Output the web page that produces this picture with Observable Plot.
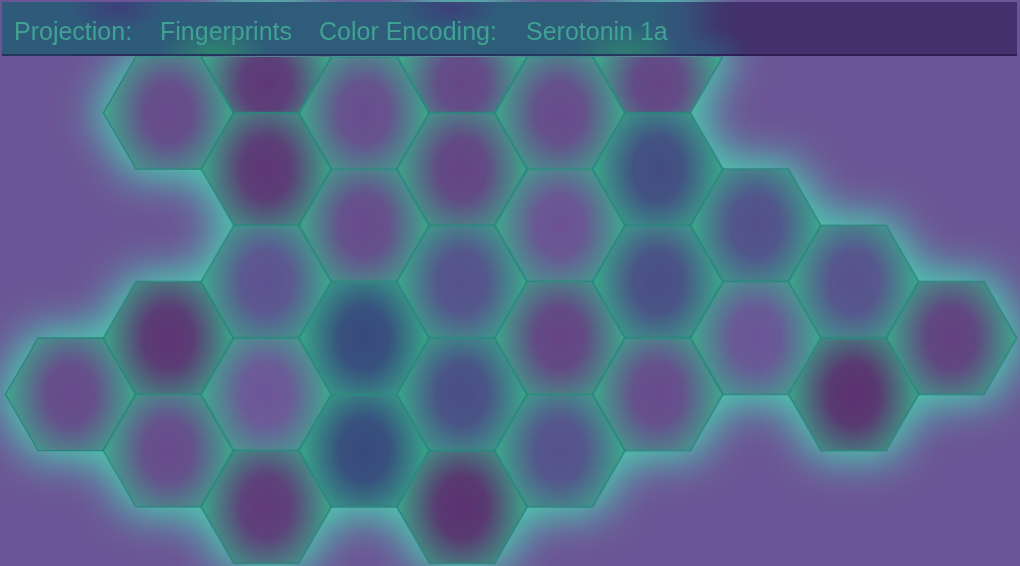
<!DOCTYPE html>
<html>
<head>
<meta charset="utf-8">
<script src="https://cdn.jsdelivr.net/npm/d3@7"></script>
<script src="https://cdn.jsdelivr.net/npm/@observablehq/plot@0.6"></script>
<style>
html, body { margin: 0; padding: 0; background: #6c5596; overflow: hidden; }
#wrap { position: relative; width: 1020px; height: 566px; overflow: hidden; }
#chart svg { display: block; }
#bar {
  position: absolute; left: 2px; top: 2px; width: 1015px; height: 52px;
  background:
    radial-gradient(ellipse 55px 26px at 213px 50px, rgba(46, 145, 108, 0.75), rgba(46, 145, 108, 0) 100%),
    radial-gradient(ellipse 55px 26px at 622px 48px, rgba(46, 145, 108, 0.6), rgba(46, 145, 108, 0) 100%),
    radial-gradient(ellipse 50px 24px at 115px 6px, rgba(66, 52, 122, 0.7), rgba(66, 52, 122, 0) 100%),
    radial-gradient(ellipse 50px 24px at 448px 6px, rgba(66, 52, 122, 0.7), rgba(66, 52, 122, 0) 100%),
    radial-gradient(ellipse 45px 30px at 705px 55px, rgba(46, 92, 128, 0.7), rgba(46, 92, 128, 0) 100%),
    linear-gradient(90deg, #2f5a7a 0%, #2e5e7a 64%, #355078 67.5%, #40376f 70.5%, #43306c 73%, #43306c 100%);
  border-bottom: 2px solid rgba(25, 8, 55, 0.45);
  font-family: "Liberation Sans", Arial, sans-serif; font-size: 25px; color: #3fa293;
}
#bar span { position: absolute; top: 15px; white-space: nowrap; }
#bar .h0 { left: 12px; }
#bar .h1 { left: 158px; }
#bar .h2 { left: 317px; }
#bar .h3 { left: 524px; }
</style>
</head>
<body>
<div id="wrap"><div id="chart"></div><div id="bar"></div></div>
<script>
// Hex grid cells: column index, row index (half-hex steps), Serotonin 1a encoding value
const hexCol = [0, 1, 1, 1, 2, 2, 2, 2, 2, 3, 3, 3, 3, 4, 4, 4, 4, 4, 5, 5, 5, 5, 6, 6, 6, 6, 7, 7, 8, 8, 9];
const hexRow = [6, 1, 5, 7, 0, 2, 4, 6, 8, 1, 3, 5, 7, 0, 2, 4, 6, 8, 1, 3, 5, 7, 0, 2, 4, 6, 3, 5, 4, 6, 5];
const serotonin1a = [-0.35, -0.35, -0.9, -0.3, -0.8, -0.85, 0.3, 0.0, -0.75, -0.25, -0.3, 1.0, 1.0, -0.4, -0.5, 0.45, 0.65, -1.0, -0.3, -0.1, -0.5, 0.45, -0.45, 0.8, 0.65, -0.3, 0.5, 0.05, 0.4, -1.0, -0.6];
const headerLabels = ["Projection:", "Fingerprints", "Color Encoding:", "Serotonin 1a"];

const hexes = hexCol.map((c, i) => ({col: c, row: hexRow[i], value: serotonin1a[i]}));
const innerHexes = hexes.filter(d => d.row > 0);
const topHexes = hexes.filter(d => d.row === 0);

// flat-topped hexagon symbol, circumradius = dot r
const flatHexagon = {
  draw(context, size) {
    const r = Math.sqrt(size / Math.PI);
    for (let i = 0; i < 6; ++i) {
      const a = Math.PI / 3 * i;
      const px = r * Math.cos(a), py = r * Math.sin(a);
      if (i) context.lineTo(px, py); else context.moveTo(px, py);
    }
    context.closePath();
  }
};

const chart = Plot.plot({
  width: 1020,
  height: 566,
  margin: 0,
  x: {domain: [0, 9], range: [70, 951], axis: null},
  y: {domain: [0, 9], range: [56, 562.7], axis: null},
  color: {type: "linear", domain: [-1, 0, 1], range: ["#5c3170", "#6f5699", "#394a7e"]},
  style: {background: "#6c5596", overflow: "hidden"},
  marks: [
    Plot.dot(hexes, {x: "col", y: "row", r: 76, symbol: flatHexagon, fill: "#4ccdb0"}),
    Plot.dot(hexes, {x: "col", y: "row", r: 65, symbol: flatHexagon, fill: "value"}),
    Plot.dot(innerHexes, {x: "col", y: "row", r: 65, symbol: flatHexagon, fill: "url(#hexEdge)", stroke: "#2a857e", strokeWidth: 1.3}),
    Plot.dot(topHexes, {x: "col", y: "row", r: 65, symbol: flatHexagon, fill: "url(#hexEdgeTop)", stroke: "#2a857e", strokeWidth: 1.3})
  ]
});

const svg = d3.select(chart);
const defs = svg.insert("defs", ":first-child");
defs.append("filter").attr("id", "hexGlow")
  .attr("x", "-20%").attr("y", "-20%").attr("width", "140%").attr("height", "140%")
  .append("feGaussianBlur").attr("stdDeviation", 21);
function edgeGradient(id, cy, sy) {
  const g = defs.append("radialGradient").attr("id", id)
    .attr("cx", "0.5").attr("cy", cy).attr("r", "0.5")
    .attr("gradientTransform", `translate(0.5,${cy}) scale(1,${sy}) translate(-0.5,${-cy})`);
  g.append("stop").attr("offset", "0%").attr("stop-color", "#37b98c").attr("stop-opacity", 0);
  g.append("stop").attr("offset", "38%").attr("stop-color", "#37b98c").attr("stop-opacity", 0.07);
  g.append("stop").attr("offset", "100%").attr("stop-color", "#37b98c").attr("stop-opacity", 0.85);
}
edgeGradient("hexEdge", 0.5, 1.45);
edgeGradient("hexEdgeTop", 0.74, 1.3);
defs.append("clipPath").attr("id", "belowBar")
  .append("rect").attr("x", 0).attr("y", 56).attr("width", 1020).attr("height", 520);
const groups = chart.querySelectorAll("g[aria-label='dot']");
groups[0].setAttribute("filter", "url(#hexGlow)");
for (let i = 1; i < groups.length; ++i) groups[i].setAttribute("clip-path", "url(#belowBar)");

document.getElementById("chart").appendChild(chart);

const bar = d3.select("#bar");
bar.selectAll("span").data(headerLabels).join("span")
  .attr("class", (d, i) => "h" + i)
  .text(d => d);
</script>
</body>
</html>
